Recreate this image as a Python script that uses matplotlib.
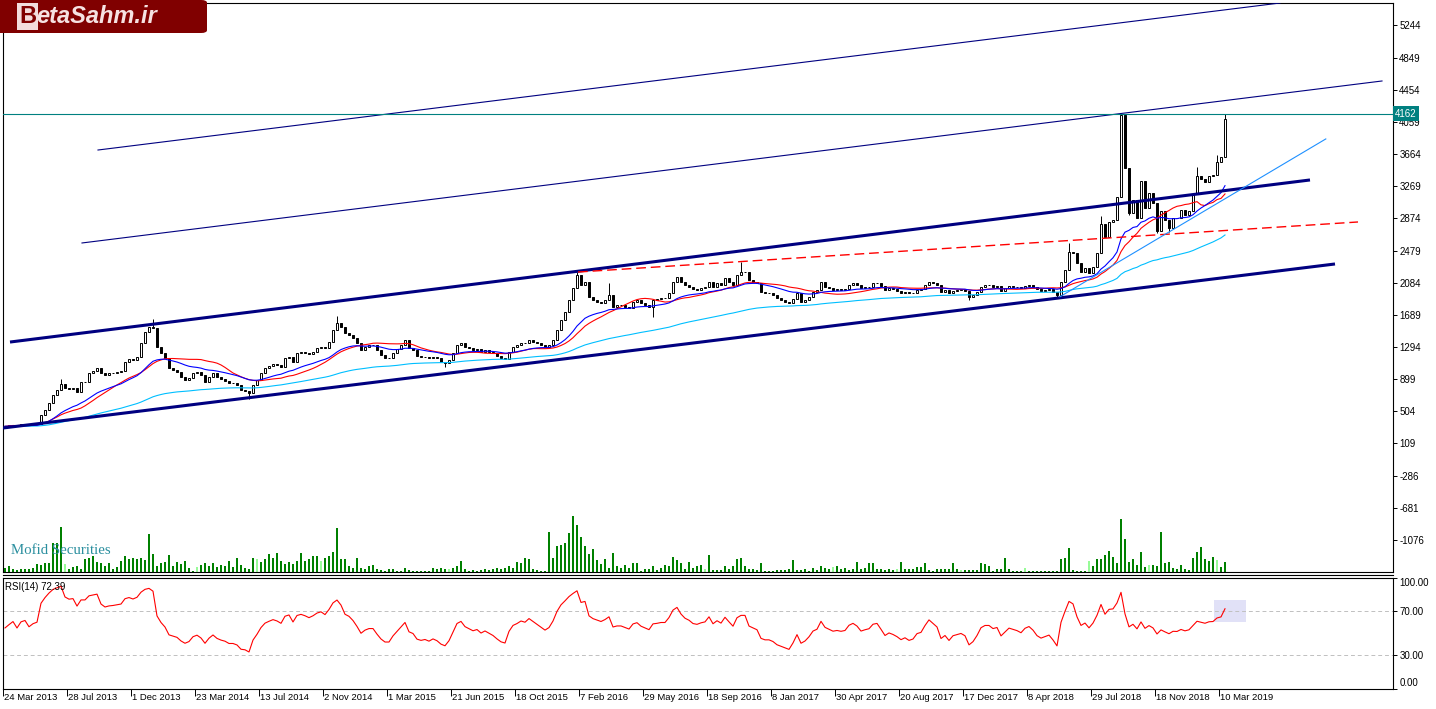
import numpy as np
import pandas as pd
import matplotlib
matplotlib.use('Agg')
from matplotlib import pyplot as plt
from matplotlib.patches import Rectangle, FancyBboxPatch
from matplotlib.lines import Line2D
import matplotlib.transforms as mtrans

plt.rcParams['font.family'] = ['Liberation Sans', 'DejaVu Sans']

# weekly closes (bar 0 = 24 Mar 2013)
closes = [
    320, 330, 340, 325, 345, 350, 335, 345, 350, 455,
    520, 600, 700, 765, 840, 785, 773, 785, 745, 868,
    868, 978, 1003, 1032, 970, 950, 970, 978, 990, 1003,
    1113, 1142, 1134, 1175, 1339, 1482, 1543, 1523, 1298, 1216,
    1154, 1032, 1011, 990, 929, 888, 909, 970, 990, 950,
    868, 929, 970, 921, 896, 880, 847, 847, 827, 765,
    757, 724, 827, 888, 970, 1032, 1060, 1085, 1073, 1052,
    1154, 1175, 1113, 1216, 1236, 1224, 1208, 1236, 1278, 1298,
    1278, 1360, 1503, 1585, 1544, 1462, 1442, 1401, 1339, 1257,
    1298, 1319, 1319, 1257, 1196, 1155, 1155, 1216, 1266, 1319,
    1380, 1278, 1257, 1184, 1167, 1176, 1155, 1176, 1155, 1114,
    1094, 1135, 1216, 1319, 1348, 1298, 1278, 1257, 1270, 1237,
    1257, 1237, 1216, 1184, 1155, 1143, 1237, 1298, 1319, 1348,
    1339, 1380, 1360, 1339, 1319, 1298, 1319, 1380, 1503, 1626,
    1728, 1872, 2015, 2179, 2056, 2097, 1913, 1872, 1851, 1831,
    1872, 1933, 1790, 1810, 1810, 1790, 1769, 1851, 1872, 1831,
    1810, 1790, 1872, 1880, 1892, 1892, 1962, 2097, 2158, 2097,
    2056, 2036, 2003, 1995, 2015, 2027, 2097, 2036, 2077, 2056,
    2138, 2097, 2056, 2179, 2220, 2220, 2117, 2097, 2077, 1974,
    1954, 1954, 1933, 1892, 1872, 1851, 1831, 1880, 1954, 1851,
    1872, 1913, 1974, 1995, 2097, 2036, 2015, 1995, 2003, 1995,
    2003, 2056, 2077, 2056, 2015, 2027, 2036, 2077, 2085, 2044,
    1995, 2015, 2003, 1986, 1962, 1974, 1954, 1962, 1995, 2003,
    2050, 2097, 2077, 2056, 1974, 1995, 1954, 1987, 1995, 2003,
    1987, 1913, 1933, 1974, 2036, 2056, 2056, 2036, 2044, 1987,
    2015, 2044, 2036, 2028, 2015, 2044, 2056, 2036, 2003, 1987,
    1995, 2003, 1974, 1933, 2097, 2240, 2466, 2445, 2322, 2220,
    2261, 2200, 2281, 2445, 2801, 2649, 2834, 2854, 3141, 4144,
    3497, 2936, 3100, 2875, 3333, 2998, 3182, 3059, 2719, 2965,
    2854, 2752, 2883, 2875, 2977, 2916, 2965, 3170, 3395, 3358,
    3325, 3395, 3407, 3571, 3624, 4095,
]

# wick extremes that stand out on the chart
high_bars = [14, 37, 83, 143, 151, 184, 266, 274, 279, 281, 298, 303, 305]
high_vals = [896, 1638, 1675, 2220, 2076, 2343, 2568, 2904, 4162, 3296, 3510, 3653, 4162]
low_bars = [61, 110, 162, 241, 263, 274, 279, 281, 288, 291]
low_vals = [651, 1045, 1667, 1872, 1893, 2548, 3153, 2916, 2690, 2711]

# volume histogram (relative units)
volumes = [
    4, 6, 3, 2, 3, 3, 3, 4, 8, 7,
    9, 9, 29, 29, 45, 8, 3, 5, 6, 3,
    13, 14, 16, 10, 9, 6, 9, 3, 5, 11,
    16, 13, 14, 13, 14, 12, 38, 18, 6, 9,
    10, 17, 6, 10, 8, 11, 4, 1, 5, 7,
    9, 6, 9, 5, 7, 6, 11, 5, 14, 7,
    4, 3, 14, 13, 10, 13, 18, 14, 19, 11,
    8, 10, 8, 11, 19, 11, 13, 16, 16, 11,
    14, 16, 20, 44, 13, 13, 6, 4, 14, 4,
    3, 6, 7, 3, 2, 1, 3, 3, 1, 1,
    4, 2, 1, 1, 1, 1, 1, 4, 3, 4,
    3, 3, 4, 6, 11, 3, 1, 2, 1, 2,
    3, 2, 3, 4, 3, 4, 6, 4, 10, 9,
    14, 13, 3, 2, 1, 1, 40, 14, 26, 27,
    29, 39, 56, 47, 35, 26, 18, 23, 12, 8,
    13, 4, 19, 6,
    4, 7, 4, 9, 9, 1, 3, 3, 6, 2,
    4, 7, 6, 15, 12, 9, 3, 10, 4, 6,
    7, 3, 17, 2, 2, 2, 6, 3, 6, 13,
    14, 6, 3, 3, 2, 9, 1, 1, 1, 2,
    2, 2, 3, 12, 2, 2, 3, 1, 4, 2,
    6, 4, 3, 5, 6, 3, 4, 2, 3, 10,
    3, 4, 9, 9, 3, 3, 2, 3, 2, 3,
    10, 3, 3, 3, 5, 5, 9, 2, 1, 3,
    3, 3, 3, 9, 3, 2, 2, 2, 2, 2,
    9, 8, 6, 1, 3, 3, 14, 3, 1, 1,
    1, 4, 1, 1, 1, 1, 1, 1, 1, 1,
    13, 14, 24, 2, 1, 1, 1, 11, 6, 13,
    13, 17, 21, 15, 9, 53, 33, 10, 13, 7,
    20, 5, 7, 7, 6, 40, 9, 10, 4, 3,
    7, 3, 2, 14, 20, 25, 13, 11, 15, 12,
    5, 10,
]
pale_vol_bars = [15, 48, 63, 79, 111, 175, 207, 223, 239, 255, 271, 286, 303]

date_labels = ['24 Mar 2013', '28 Jul 2013', '1 Dec 2013', '23 Mar 2014', '13 Jul 2014',
               '2 Nov 2014', '1 Mar 2015', '21 Jun 2015', '18 Oct 2015', '7 Feb 2016',
               '29 May 2016', '18 Sep 2016', '8 Jan 2017', '30 Apr 2017', '20 Aug 2017',
               '17 Dec 2017', '8 Apr 2018', '29 Jul 2018', '18 Nov 2018', '10 Mar 2019']
date_bars = [16 * i for i in range(len(date_labels))]

price_ticks = [-1076, -681, -286, 109, 504, 899, 1294, 1689, 2084, 2479,
               2874, 3269, 3664, 4059, 4454, 4849, 5244]
bid_price = 4162
rsi_last = 72.39
rsi_seed = (6.0, 5.0)  # avg gain / avg loss carried in from before the first bar (RSI ~55)

# trend objects: (bar0, price0, bar1, price1)
channel_thick = [(-0.5, 299, 332.5, 2314), (1.25, 1355, 326.25, 3346)]
channel_thin = [(23.25, 3714, 318.75, 5520), (19.25, 2572, 344.25, 4562)]
red_dash_line = (143.25, 2215, 338.25, 2830)
blue_trend = (263.75, 1912, 330.2, 3850)
rsi_box = (302.25, 60, 310.25, 80)

W, H = 1436, 709


def fx(x):
    return x / W


def fy(y):
    return 1 - y / H


n = len(closes)
x = np.arange(n)
c = np.array(closes, dtype=float)
o = np.r_[c[0], c[:-1]]
hi = np.maximum(o, c)
lo = np.minimum(o, c)
for b, v in zip(high_bars, high_vals):
    hi[b] = max(hi[b], v)
for b, v in zip(low_bars, low_vals):
    lo[b] = min(lo[b], v)

s = pd.Series(c)
sma20 = s.rolling(20, min_periods=1).mean()
ema20 = s.ewm(span=20, adjust=False).mean()
ema80 = s.ewm(span=80, adjust=False).mean()

# RSI(14), Wilder smoothing
g, l = rsi_seed
rsi = [100 - 100 / (1 + g / l)]
for i in range(1, n):
    dlt = c[i] - c[i - 1]
    g = (g * 13 + max(dlt, 0)) / 14
    l = (l * 13 + max(-dlt, 0)) / 14
    rsi.append(100 - 100 / (1 + g / l))

fig = plt.figure(figsize=(W / 100, H / 100), dpi=100)
ax = fig.add_axes([fx(3), fy(572), 1390 / W, 569 / H])
ax_r = fig.add_axes([fx(3), fy(688.5), 1390 / W, 111 / H])

# volumes behind the price chart
axv = ax.twinx()
axv.set_zorder(ax.get_zorder() - 1)
ax.patch.set_visible(False)
vcol = ['#98fb98' if i in pale_vol_bars else '#008000' for i in range(n)]
axv.bar(x, volumes, width=0.3, color=vcol, linewidth=0)
axv.set_ylim(0, 569)
axv.set_yticks([])
for sp in axv.spines.values():
    sp.set_visible(False)

# candles
up = c >= o
ax.vlines(x, lo, hi, color='black', lw=0.7, zorder=2)
ax.bar(x[up], (c - o)[up], bottom=o[up], width=0.65, facecolor='white',
       edgecolor='black', linewidth=0.7, zorder=3)
ax.bar(x[~up], (c - o)[~up], bottom=o[~up], width=0.65, facecolor='black',
       edgecolor='black', linewidth=0.7, zorder=3)

# moving averages
ax.plot(x, ema80, color='#00bfff', lw=0.8, zorder=4)
ax.plot(x, sma20, color='#ff0000', lw=0.8, zorder=4)
ax.plot(x, ema20, color='#0000ff', lw=0.8, zorder=4)

# trend objects
for b0, p0, b1, p1 in channel_thick:
    ax.plot([b0, b1], [p0, p1], color='#000080', lw=2.2, zorder=5, solid_capstyle='butt')
for b0, p0, b1, p1 in channel_thin:
    ax.plot([b0, b1], [p0, p1], color='#000080', lw=0.8, zorder=5)
b0, p0, b1, p1 = red_dash_line
ax.plot([b0, b1], [p0, p1], color='#ff0000', lw=1.0, ls=(0, (7, 3.5)), zorder=5)
b0, p0, b1, p1 = blue_trend
ax.plot([b0, b1], [p0, p1], color='#1e90ff', lw=0.8, zorder=5)
ax.axhline(bid_price, color='#008080', lw=0.8, zorder=5)

ax.set_xlim(-0.5, 347)
ax.set_ylim(-1470, 5520)
ax.set_xticks([])
ax.yaxis.tick_right()
ax.set_yticks(price_ticks)
ax.set_yticklabels([str(v) for v in price_ticks])
ax.tick_params(axis='y', direction='out', length=3, width=0.7, pad=1.5, labelsize=7)
for sp in ax.spines.values():
    sp.set_linewidth(0.8)

ax.text(1.0013, bid_price, str(bid_price), transform=ax.get_yaxis_transform(),
        ha='left', va='center', color='white', fontsize=7, zorder=10,
        bbox=dict(boxstyle='square,pad=0.22', fc='#008080', ec='none'))

ax.text(8 / 1390, 21 / 569, 'Mofid Securities', transform=ax.transAxes, ha='left', va='center',
        color='#2b8f9f', fontsize=10.7, family='Liberation Serif', zorder=6)

# RSI pane
bx0, r0, bx1, r1 = rsi_box
ax_r.add_patch(Rectangle((bx0, r0), bx1 - bx0, r1 - r0, fc='#e1e1f7', ec='none', zorder=0))
for lvl in (30, 70):
    ax_r.axhline(lvl, color='#c0c0c0', lw=0.7, ls=(0, (4, 3)), zorder=1)
ax_r.plot(x, rsi, color='#ff0000', lw=0.8, zorder=3)
ax_r.set_xlim(-0.5, 347)
ax_r.set_ylim(0, 100)
ax_r.yaxis.tick_right()
ax_r.set_yticks([0, 30, 70, 100])
ax_r.set_yticklabels(['0.00', '30.00', '70.00', '100.00'])
ax_r.tick_params(axis='y', direction='out', length=3, width=0.7, pad=1.5, labelsize=7)
yl = ax_r.get_yticklabels()
yl[0].set_va('bottom')
yl[3].set_va('top')
ax_r.set_xticks(np.array(date_bars) - 0.5)
ax_r.tick_params(axis='x', direction='out', length=5, width=0.7, labelbottom=False)
for sp in ax_r.spines.values():
    sp.set_linewidth(0.8)
ax_r.text(2 / 1390, (688.5 - 587) / 111, 'RSI(14) %.2f' % rsi_last, transform=ax_r.transAxes,
          ha='left', va='center', fontsize=7, zorder=5)

trans = mtrans.blended_transform_factory(ax_r.transData, ax_r.transAxes)
for b, lab in zip(date_bars, date_labels):
    ax_r.text(b - 0.3, -(697 - 688.5) / 111, lab, transform=trans, ha='left', va='center',
              fontsize=6.8, clip_on=False)

# separator between the panes
fig.add_artist(Line2D([fx(3), fx(1393)], [fy(575), fy(575)], color='black', lw=0.8))

# logo
fig.add_artist(FancyBboxPatch((-0.01, fy(33)), fx(207) + 0.01, 33 / H,
                              boxstyle='round,pad=0,rounding_size=0.004',
                              transform=fig.transFigure, fc='#800000', ec='none', zorder=20))
fig.text(fx(19), fy(16.5), 'B', ha='left', va='center', fontsize=17, weight='bold',
         color='#800000', zorder=21,
         bbox=dict(boxstyle='square,pad=0.08', fc='#f3dcdc', ec='none'))
fig.text(fx(36), fy(16.5), 'etaSahm.ir', ha='left', va='center', fontsize=17, weight='bold',
         style='italic', color='#f6e2e2', zorder=21)

fig.savefig('out.png', dpi=100, facecolor='white')
